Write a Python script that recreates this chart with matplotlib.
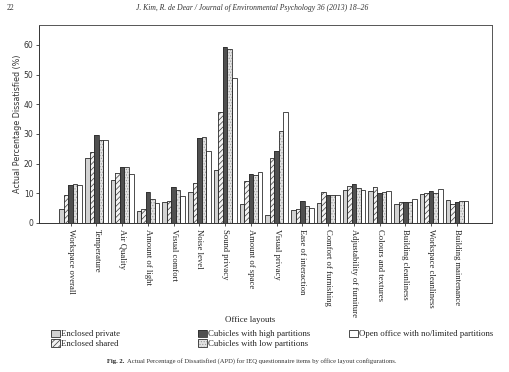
import matplotlib
matplotlib.use("Agg")
import matplotlib.pyplot as plt
import numpy as np
from matplotlib.legend_handler import HandlerTuple

categories = ["Workspace overall", "Temperature", "Air Quality", "Amount of light",
              "Visual comfort", "Noise level", "Sound privacy", "Amount of space",
              "Visual privacy", "Ease of interaction", "Comfort of furnishing",
              "Adjustability of furniture", "Colours and textures", "Building cleanliness",
              "Workspace cleanliness", "Building maintenance"]

series_names = ["Enclosed private", "Enclosed shared", "Cubicles with high partitions",
                "Cubicles with low partitions", "Open office with no/limited partitions"]

enclosed_private = [4.7, 21.9, 14.6, 4.0, 7.0, 10.3, 18.0, 6.3, 2.8, 4.3, 6.6, 11.0, 10.9, 6.5, 9.8, 7.6]
enclosed_shared  = [9.6, 24.0, 16.9, 4.8, 7.5, 13.5, 37.4, 14.0, 21.8, 4.8, 10.3, 12.5, 12.1, 7.0, 10.2, 6.3]
cubicles_high    = [12.7, 29.8, 18.8, 10.5, 12.0, 28.5, 59.3, 16.6, 24.3, 7.5, 9.5, 13.1, 10.0, 7.2, 10.9, 7.2]
cubicles_low     = [13.3, 28.1, 18.8, 8.0, 11.1, 29.0, 58.7, 16.1, 31.1, 5.8, 9.5, 11.8, 10.4, 7.0, 10.0, 7.5]
open_office      = [12.8, 27.8, 16.6, 6.6, 9.0, 24.2, 48.9, 17.1, 37.3, 5.1, 9.5, 11.0, 10.8, 8.1, 11.6, 7.5]

series = [enclosed_private, enclosed_shared, cubicles_high, cubicles_low, open_office]

plt.rcParams['hatch.linewidth'] = 0.5
serif = ['Liberation Serif', 'DejaVu Serif']
sans = ['DejaVu Sans']

W, H = 510, 372
fig = plt.figure(figsize=(W / 100, H / 100), dpi=100)
fig.patch.set_facecolor('white')
ax = fig.add_axes([39 / W, 1 - 223 / H, (492 - 39) / W, (223 - 25) / H])

styles = [
    dict(face='#d2d2d2', hatch=None, hcol='#d2d2d2'),
    dict(face='#f2f2f2', hatch='//////', hcol='#3a3a3a'),
    dict(face='#505050', hatch=None, hcol='#505050'),
    dict(face='#e2e2e2', hatch='......', hcol='#9a9a9a'),
    dict(face='#ffffff', hatch=None, hcol='#ffffff'),
]
edge = '#2e2e2e'

x = np.arange(len(categories))
bw = 0.176
handles = []
for i, (vals, st) in enumerate(zip(series, styles)):
    pos = x + (i - 2) * bw
    fill = ax.bar(pos, vals, width=bw, color=st['face'], edgecolor=st['hcol'],
                  hatch=st['hatch'], linewidth=0, zorder=2)
    outl = ax.bar(pos, vals, width=bw, fill=False, edgecolor=edge, linewidth=0.6, zorder=3)
    handles.append((fill.patches[0], outl.patches[0]))

ax.set_xlim((39 - 70.7) / 25.75, (492 - 70.7) / 25.75)
ax.set_ylim(0, 66.7)
ax.set_yticks(range(0, 61, 10))
ax.set_yticklabels([str(v) for v in range(0, 61, 10)], family=sans, fontsize=5.5, color='#333333')
ax.set_xticks(x)
ax.set_xticklabels(categories, rotation=-90, family=serif, fontsize=6.2,
                   va='top', ha='center', color='#222222')
ax.tick_params(axis='both', length=2.5, width=0.6, color='#333333', pad=1.5)
for s in ax.spines.values():
    s.set_linewidth(0.7)
    s.set_color('#555555')
ax.spines['left'].set_color('#333333')
ax.spines['bottom'].set_color('#333333')

ax.set_ylabel('Actual Percentage Dissatisfied (%)', family=sans, fontsize=5.8,
              color='#333333', labelpad=1)

fig.text(250 / W, 1 - 320 / H, 'Office layouts', family=serif, fontsize=6.3,
         ha='center', va='center', color='#222222')

# legends in three columns
col_x = [51, 198, 349]
groups = [[0, 1], [2, 3], [4]]
for cx, grp in zip(col_x, groups):
    leg = fig.legend([handles[k] for k in grp], [series_names[k] for k in grp],
                     handler_map={tuple: HandlerTuple(ndivide=1)},
                     loc='upper left', bbox_to_anchor=(cx / W, 1 - 329.5 / H),
                     frameon=False, prop={'family': serif, 'size': 6.3},
                     handlelength=1.0, handleheight=1.0, handletextpad=0.15,
                     labelspacing=0.1, borderpad=0, borderaxespad=0)
    for t in leg.get_texts():
        t.set_color('#222222')

# page header and caption
fig.text(11 / W, 1 - 8 / H, '22', family=serif, fontsize=5.5, ha='center', va='center', color='#333333')
fig.text(252 / W, 1 - 8 / H,
         'J. Kim, R. de Dear / Journal of Environmental Psychology 36 (2013) 18\u201326',
         family=serif, style='italic', fontsize=5.5, ha='center', va='center', color='#333333')
t1 = fig.text(107 / W, 1 - 363 / H, 'Fig. 2.', family=serif, weight='bold', fontsize=4.8,
              ha='left', va='baseline', color='#222222')
fig.canvas.draw()
bb = t1.get_window_extent()
fig.text((bb.x1 + 3) / W, 1 - 363 / H,
         'Actual Percentage of Dissatisfied (APD) for IEQ questionnaire items by office layout configurations.',
         family=serif, fontsize=4.8, ha='left', va='baseline', color='#333333')

fig.savefig('out.png', dpi=100, facecolor='white')
